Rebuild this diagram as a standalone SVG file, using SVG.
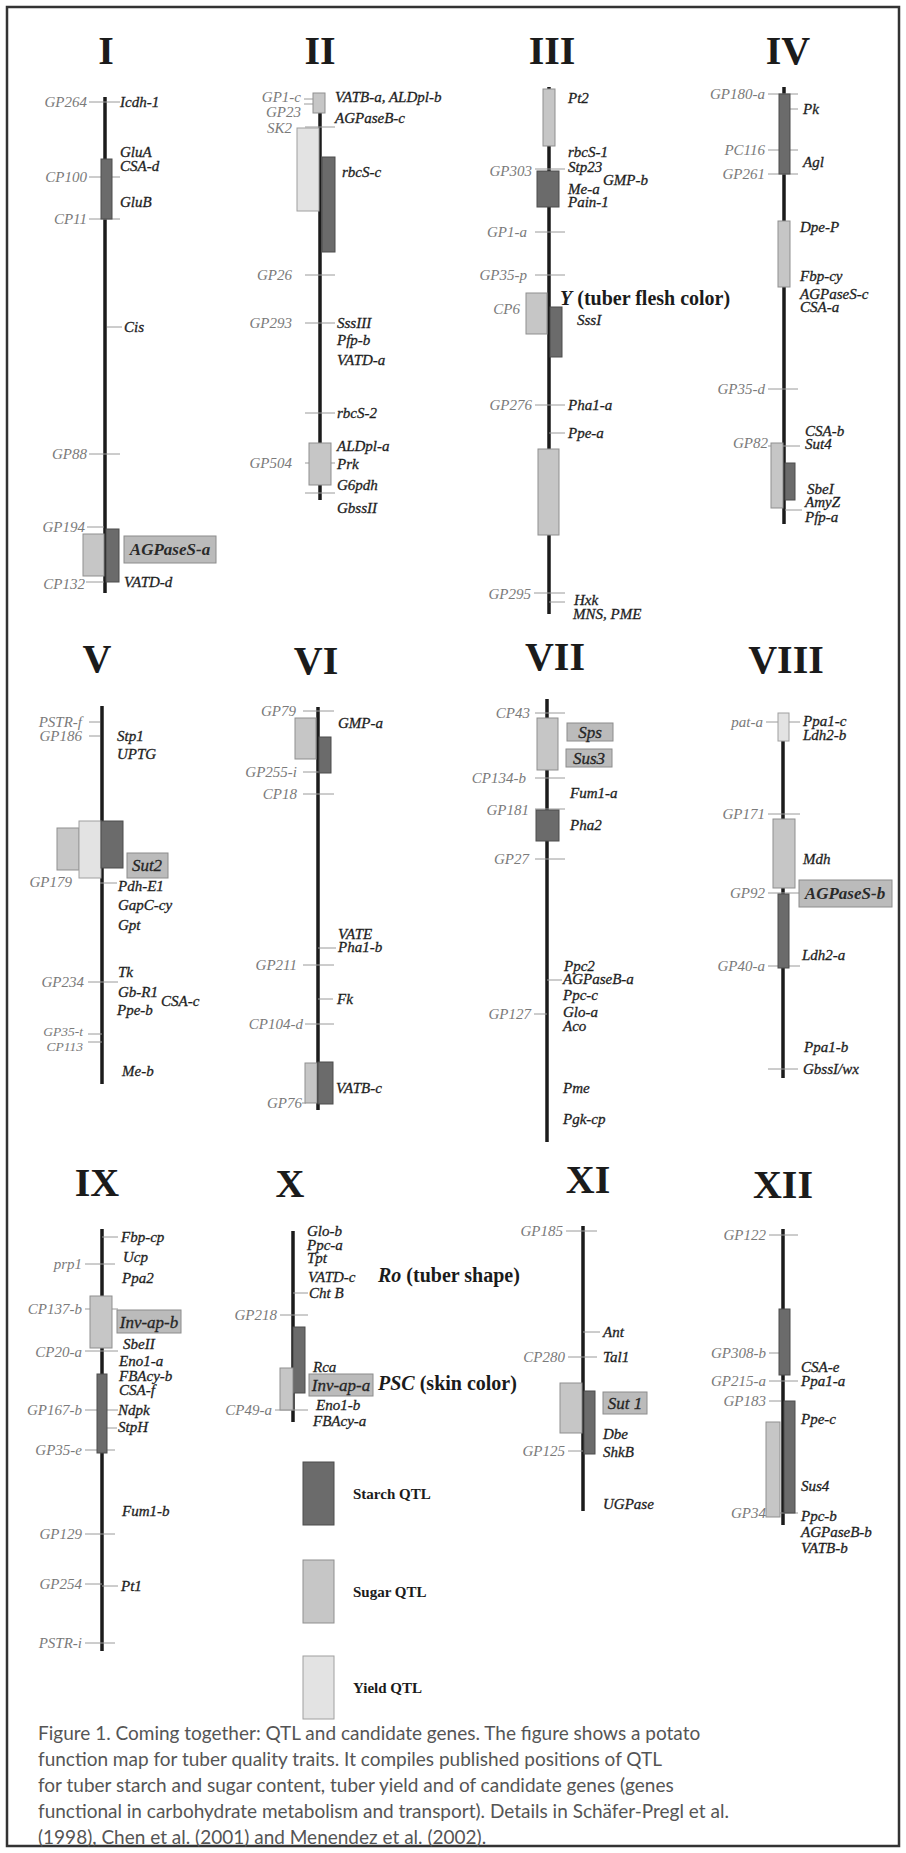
<svg xmlns="http://www.w3.org/2000/svg" width="906" height="1853" viewBox="0 0 906 1853">
<style>
.chr{stroke:#1b1b1b;stroke-width:3.5}
.tk{stroke:#9a9a9a;stroke-width:1}
.st{fill:#6b6b6b;stroke:#4d4d4d;stroke-width:1}
.su{fill:#c6c6c6;stroke:#8f8f8f;stroke-width:1}
.yi{fill:#e3e3e3;stroke:#a0a0a0;stroke-width:1}
.hl{fill:#bbbbbb;stroke:#8c8c8c;stroke-width:1}
.t{font-family:"Liberation Serif",serif;font-weight:bold;font-size:40px;text-anchor:middle;fill:#1b1b1b}
.m{font-family:"Liberation Serif",serif;font-style:italic;font-size:15px;fill:#7a7a7a;text-anchor:end}
.ms{font-family:"Liberation Serif",serif;font-style:italic;font-size:13.5px;fill:#7a7a7a;text-anchor:end}
.g{font-family:"Liberation Serif",serif;font-style:italic;font-size:15px;fill:#1e1e1e;stroke:#1e1e1e;stroke-width:0.3}
.h{font-family:"Liberation Serif",serif;font-style:italic;font-size:17px;fill:#262626;stroke:#262626;stroke-width:0.3;text-anchor:middle}
.hb{font-family:"Liberation Serif",serif;font-style:italic;font-weight:bold;font-size:17px;fill:#2a2a2a;text-anchor:middle}
.b{font-family:"Liberation Serif",serif;font-weight:bold;font-size:20px;fill:#1b1b1b}
.lg{font-family:"Liberation Serif",serif;font-weight:bold;font-size:15px;fill:#1b1b1b}
.cap{font-family:Lato,"Open Sans",sans-serif;font-size:19px;fill:#555}
</style>
<rect x="7" y="7" width="892" height="1839" fill="#fff" stroke="#333" stroke-width="2.5"/>
<g id="connectors"></g>

<g id="chr-I">
<text class="t" x="106" y="64">I</text>
<line class="chr" x1="105" y1="97" x2="105" y2="593"/>
<line class="tk" x1="89" y1="102" x2="120" y2="102"/>
<line class="tk" x1="89" y1="177" x2="120" y2="177"/>
<line class="tk" x1="89" y1="219" x2="120" y2="219"/>
<line class="tk" x1="107" y1="327" x2="122" y2="327"/>
<line class="tk" x1="89" y1="454" x2="120" y2="454"/>
<line class="tk" x1="87" y1="527" x2="104" y2="527"/>
<line class="tk" x1="86" y1="582" x2="104" y2="582"/>
<rect class="st" x="101" y="159" width="11" height="60"/>
<rect class="su" x="83" y="534" width="21" height="42"/>
<rect class="st" x="106" y="529" width="13" height="53"/>
<rect class="hl" x="124" y="536" width="92" height="27"/>
<text class="m" x="87" y="107">GP264</text>
<text class="m" x="87" y="182">CP100</text>
<text class="m" x="87" y="224">CP11</text>
<text class="m" x="87" y="459">GP88</text>
<text class="m" x="85" y="532">GP194</text>
<text class="m" x="85" y="589">CP132</text>
<text class="g" x="120" y="107">Icdh-1</text>
<text class="g" x="120" y="157">GluA</text>
<text class="g" x="120" y="171">CSA-d</text>
<text class="g" x="120" y="207">GluB</text>
<text class="g" x="124" y="332">Cis</text>
<text class="hb" x="170" y="555">AGPaseS-a</text>
<text class="g" x="124" y="587">VATD-d</text>
</g>

<g id="chr-II">
<text class="t" x="320" y="64">II</text>
<line class="chr" x1="320" y1="95" x2="320" y2="500"/>
<line class="tk" x1="304" y1="99" x2="325" y2="99"/>
<line class="tk" x1="304" y1="104" x2="313" y2="104"/>
<line class="tk" x1="305" y1="127" x2="335" y2="127"/>
<line class="tk" x1="305" y1="275" x2="335" y2="275"/>
<line class="tk" x1="305" y1="323" x2="335" y2="323"/>
<line class="tk" x1="305" y1="413" x2="335" y2="413"/>
<line class="tk" x1="305" y1="463" x2="335" y2="463"/>
<line class="tk" x1="305" y1="493" x2="335" y2="493"/>
<rect class="su" x="313" y="93" width="12" height="20"/>
<rect class="yi" x="297" y="128" width="22" height="83"/>
<rect class="st" x="322" y="157" width="13" height="95"/>
<rect class="su" x="309" y="443" width="22" height="42"/>
<text class="m" x="301" y="102">GP1-c</text>
<text class="m" x="301" y="117">GP23</text>
<text class="m" x="292" y="133">SK2</text>
<text class="m" x="292" y="280">GP26</text>
<text class="m" x="292" y="328">GP293</text>
<text class="m" x="292" y="468">GP504</text>
<text class="g" x="335" y="102">VATB-a, ALDpl-b</text>
<text class="g" x="335" y="123">AGPaseB-c</text>
<text class="g" x="342" y="177">rbcS-c</text>
<text class="g" x="337" y="328">SssIII</text>
<text class="g" x="337" y="345">Pfp-b</text>
<text class="g" x="337" y="365">VATD-a</text>
<text class="g" x="337" y="418">rbcS-2</text>
<text class="g" x="337" y="451">ALDpl-a</text>
<text class="g" x="337" y="469">Prk</text>
<text class="g" x="337" y="490">G6pdh</text>
<text class="g" x="337" y="513">GbssII</text>
</g>

<g id="chr-III">
<text class="t" x="552" y="64">III</text>
<line class="chr" x1="549" y1="87" x2="549" y2="614"/>
<line class="tk" x1="535" y1="169" x2="565" y2="169"/>
<line class="tk" x1="535" y1="232" x2="565" y2="232"/>
<line class="tk" x1="535" y1="275" x2="565" y2="275"/>
<line class="tk" x1="535" y1="405" x2="565" y2="405"/>
<line class="tk" x1="549" y1="433" x2="565" y2="433"/>
<line class="tk" x1="534" y1="593" x2="565" y2="593"/>
<line class="tk" x1="549" y1="602" x2="565" y2="602"/>
<rect class="su" x="543" y="89" width="12" height="57"/>
<rect class="st" x="537" y="171" width="22" height="36"/>
<rect class="su" x="526" y="293" width="21" height="41"/>
<rect class="st" x="550" y="307" width="12" height="50"/>
<rect class="su" x="538" y="449" width="21" height="86"/>
<text class="m" x="532" y="176">GP303</text>
<text class="m" x="527" y="237">GP1-a</text>
<text class="m" x="527" y="280">GP35-p</text>
<text class="m" x="520" y="314">CP6</text>
<text class="m" x="532" y="410">GP276</text>
<text class="m" x="531" y="599">GP295</text>
<text class="g" x="568" y="103">Pt2</text>
<text class="g" x="568" y="157">rbcS-1</text>
<text class="g" x="568" y="172">Stp23</text>
<text class="g" x="603" y="185">GMP-b</text>
<text class="g" x="568" y="194">Me-a</text>
<text class="g" x="568" y="207">Pain-1</text>
<text class="g" x="577" y="325">SssI</text>
<text class="g" x="568" y="410">Pha1-a</text>
<text class="g" x="568" y="438">Ppe-a</text>
<text class="g" x="574" y="605">Hxk</text>
<text class="g" x="573" y="619">MNS, PME</text>
<text class="b" x="560" y="305"><tspan font-style="italic">Y</tspan> (tuber flesh color)</text>
</g>

<g id="chr-IV">
<text class="t" x="788" y="64">IV</text>
<line class="chr" x1="784" y1="87" x2="784" y2="524"/>
<line class="tk" x1="768" y1="94" x2="798" y2="94"/>
<line class="tk" x1="790" y1="109" x2="798" y2="109"/>
<line class="tk" x1="768" y1="150" x2="798" y2="150"/>
<line class="tk" x1="768" y1="174" x2="798" y2="174"/>
<line class="tk" x1="768" y1="389" x2="798" y2="389"/>
<line class="tk" x1="768" y1="446" x2="800" y2="446"/>
<line class="tk" x1="785" y1="510" x2="802" y2="510"/>
<rect class="st" x="779" y="94" width="11" height="80"/>
<rect class="su" x="778" y="221" width="12" height="66"/>
<rect class="su" x="771" y="443" width="12" height="65"/>
<rect class="st" x="785" y="463" width="10" height="37"/>
<text class="m" x="765" y="99">GP180-a</text>
<text class="m" x="765" y="155">PC116</text>
<text class="m" x="765" y="179">GP261</text>
<text class="m" x="765" y="394">GP35-d</text>
<text class="m" x="768" y="448">GP82</text>
<text class="g" x="803" y="114">Pk</text>
<text class="g" x="803" y="167">Agl</text>
<text class="g" x="800" y="232">Dpe-P</text>
<text class="g" x="800" y="281">Fbp-cy</text>
<text class="g" x="800" y="299">AGPaseS-c</text>
<text class="g" x="800" y="312">CSA-a</text>
<text class="g" x="805" y="436">CSA-b</text>
<text class="g" x="805" y="449">Sut4</text>
<text class="g" x="807" y="494">SbeI</text>
<text class="g" x="805" y="507">AmyZ</text>
<text class="g" x="805" y="522">Pfp-a</text>
</g>

<g id="chr-V">
<text class="t" x="97" y="672">V</text>
<line class="chr" x1="102" y1="706" x2="102" y2="1084"/>
<line class="tk" x1="89" y1="722" x2="100" y2="722"/>
<line class="tk" x1="89" y1="736" x2="100" y2="736"/>
<line class="tk" x1="100" y1="883" x2="117" y2="883"/>
<line class="tk" x1="88" y1="982" x2="118" y2="982"/>
<line class="tk" x1="88" y1="1034" x2="102" y2="1034"/>
<line class="tk" x1="88" y1="1042" x2="102" y2="1042"/>
<rect class="su" x="57" y="828" width="22" height="42"/>
<rect class="yi" x="79" y="821" width="22" height="57"/>
<rect class="st" x="101" y="821" width="22" height="47"/>
<rect class="hl" x="127" y="853" width="41" height="25"/>
<text class="m" x="82" y="727">PSTR-f</text>
<text class="m" x="82" y="741">GP186</text>
<text class="m" x="72" y="887">GP179</text>
<text class="m" x="84" y="987">GP234</text>
<text class="ms" x="83" y="1036">GP35-t</text>
<text class="ms" x="83" y="1051">CP113</text>
<text class="g" x="117" y="741">Stp1</text>
<text class="g" x="117" y="759">UPTG</text>
<text class="h" x="147" y="871">Sut2</text>
<text class="g" x="118" y="891">Pdh-E1</text>
<text class="g" x="118" y="910">GapC-cy</text>
<text class="g" x="118" y="930">Gpt</text>
<text class="g" x="118" y="977">Tk</text>
<text class="g" x="118" y="997">Gb-R1</text>
<text class="g" x="161" y="1006">CSA-c</text>
<text class="g" x="117" y="1015">Ppe-b</text>
<text class="g" x="122" y="1076">Me-b</text>
</g>

<g id="chr-VI">
<text class="t" x="316" y="674">VI</text>
<line class="chr" x1="318" y1="707" x2="318" y2="1110"/>
<line class="tk" x1="303" y1="711" x2="334" y2="711"/>
<line class="tk" x1="303" y1="772" x2="319" y2="772"/>
<line class="tk" x1="303" y1="794" x2="334" y2="794"/>
<line class="tk" x1="318" y1="948" x2="336" y2="948"/>
<line class="tk" x1="303" y1="965" x2="334" y2="965"/>
<line class="tk" x1="318" y1="999" x2="333" y2="999"/>
<line class="tk" x1="305" y1="1024" x2="334" y2="1024"/>
<line class="tk" x1="302" y1="1103" x2="306" y2="1103"/>
<rect class="su" x="295" y="718" width="21" height="41"/>
<rect class="st" x="319" y="737" width="12" height="36"/>
<rect class="su" x="305" y="1063" width="12" height="40"/>
<rect class="st" x="318" y="1062" width="15" height="42"/>
<text class="m" x="296" y="716">GP79</text>
<text class="m" x="297" y="777">GP255-i</text>
<text class="m" x="297" y="799">CP18</text>
<text class="m" x="297" y="970">GP211</text>
<text class="m" x="303" y="1029">CP104-d</text>
<text class="m" x="302" y="1108">GP76</text>
<text class="g" x="338" y="728">GMP-a</text>
<text class="g" x="338" y="939">VATE</text>
<text class="g" x="338" y="952">Pha1-b</text>
<text class="g" x="337" y="1004">Fk</text>
<text class="g" x="336" y="1093">VATB-c</text>
</g>

<g id="chr-VII">
<text class="t" x="555" y="670">VII</text>
<line class="chr" x1="547" y1="699" x2="547" y2="1142"/>
<line class="tk" x1="535" y1="713" x2="565" y2="713"/>
<line class="tk" x1="535" y1="778" x2="565" y2="778"/>
<line class="tk" x1="535" y1="809" x2="565" y2="809"/>
<line class="tk" x1="535" y1="859" x2="565" y2="859"/>
<line class="tk" x1="547" y1="980" x2="562" y2="980"/>
<line class="tk" x1="534" y1="1014" x2="547" y2="1014"/>
<rect class="su" x="537" y="718" width="21" height="52"/>
<rect class="st" x="536" y="810" width="23" height="31"/>
<rect class="hl" x="567" y="723" width="46" height="18"/>
<rect class="hl" x="566" y="749" width="46" height="18"/>
<text class="m" x="530" y="718">CP43</text>
<text class="m" x="526" y="783">CP134-b</text>
<text class="m" x="529" y="815">GP181</text>
<text class="m" x="529" y="864">GP27</text>
<text class="m" x="531" y="1019">GP127</text>
<text class="h" x="590" y="738">Sps</text>
<text class="h" x="589" y="764">Sus3</text>
<text class="g" x="570" y="798">Fum1-a</text>
<text class="g" x="570" y="830">Pha2</text>
<text class="g" x="564" y="971">Ppc2</text>
<text class="g" x="563" y="984">AGPaseB-a</text>
<text class="g" x="563" y="1000">Ppc-c</text>
<text class="g" x="563" y="1017">Glo-a</text>
<text class="g" x="563" y="1031">Aco</text>
<text class="g" x="563" y="1093">Pme</text>
<text class="g" x="563" y="1124">Pgk-cp</text>
</g>

<g id="chr-VIII">
<text class="t" x="786" y="673">VIII</text>
<line class="chr" x1="783" y1="713" x2="783" y2="1078"/>
<line class="tk" x1="766" y1="722" x2="800" y2="722"/>
<line class="tk" x1="768" y1="814" x2="800" y2="814"/>
<line class="tk" x1="768" y1="893" x2="800" y2="893"/>
<line class="tk" x1="768" y1="966" x2="800" y2="966"/>
<line class="tk" x1="768" y1="1069" x2="798" y2="1069"/>
<rect class="yi" x="778" y="713" width="11" height="28"/>
<rect class="su" x="773" y="819" width="22" height="69"/>
<rect class="st" x="778" y="894" width="11" height="74"/>
<rect class="hl" x="799" y="880" width="93" height="27"/>
<text class="m" x="763" y="727">pat-a</text>
<text class="m" x="765" y="819">GP171</text>
<text class="m" x="765" y="898">GP92</text>
<text class="m" x="765" y="971">GP40-a</text>
<text class="g" x="803" y="726">Ppa1-c</text>
<text class="g" x="803" y="740">Ldh2-b</text>
<text class="g" x="803" y="864">Mdh</text>
<text class="hb" x="845" y="899">AGPaseS-b</text>
<text class="g" x="802" y="960">Ldh2-a</text>
<text class="g" x="804" y="1052">Ppa1-b</text>
<text class="g" x="803" y="1074">GbssI/wx</text>
</g>

<g id="chr-IX">
<text class="t" x="97" y="1196">IX</text>
<line class="chr" x1="102" y1="1229" x2="102" y2="1651"/>
<line class="tk" x1="102" y1="1237" x2="118" y2="1237"/>
<line class="tk" x1="85" y1="1264" x2="115" y2="1264"/>
<line class="tk" x1="85" y1="1309" x2="118" y2="1309"/>
<line class="tk" x1="85" y1="1351" x2="118" y2="1351"/>
<line class="tk" x1="85" y1="1410" x2="118" y2="1410"/>
<line class="tk" x1="107" y1="1428" x2="117" y2="1428"/>
<line class="tk" x1="85" y1="1450" x2="115" y2="1450"/>
<line class="tk" x1="85" y1="1534" x2="115" y2="1534"/>
<line class="tk" x1="85" y1="1584" x2="102" y2="1584"/>
<line class="tk" x1="102" y1="1586" x2="118" y2="1586"/>
<line class="tk" x1="85" y1="1643" x2="115" y2="1643"/>
<rect class="su" x="90" y="1296" width="22" height="52"/>
<rect class="st" x="97" y="1374" width="10" height="79"/>
<rect class="hl" x="117" y="1310" width="64" height="23"/>
<text class="m" x="82" y="1269">prp1</text>
<text class="m" x="82" y="1314">CP137-b</text>
<text class="m" x="82" y="1357">CP20-a</text>
<text class="m" x="82" y="1415">GP167-b</text>
<text class="m" x="82" y="1455">GP35-e</text>
<text class="m" x="82" y="1539">GP129</text>
<text class="m" x="82" y="1589">GP254</text>
<text class="m" x="82" y="1648">PSTR-i</text>
<text class="g" x="121" y="1242">Fbp-cp</text>
<text class="g" x="123" y="1262">Ucp</text>
<text class="g" x="122" y="1283">Ppa2</text>
<text class="h" x="149" y="1328">Inv-ap-b</text>
<text class="g" x="123" y="1349">SbeII</text>
<text class="g" x="119" y="1366">Eno1-a</text>
<text class="g" x="119" y="1381">FBAcy-b</text>
<text class="g" x="119" y="1395">CSA-f</text>
<text class="g" x="118" y="1415">Ndpk</text>
<text class="g" x="118" y="1432">StpH</text>
<text class="g" x="122" y="1516">Fum1-b</text>
<text class="g" x="121" y="1591">Pt1</text>
</g>

<g id="chr-X">
<text class="t" x="290" y="1197">X</text>
<line class="chr" x1="293" y1="1231" x2="293" y2="1422"/>
<line class="tk" x1="293" y1="1293" x2="308" y2="1293"/>
<line class="tk" x1="280" y1="1315" x2="308" y2="1315"/>
<line class="tk" x1="275" y1="1410" x2="308" y2="1410"/>
<rect class="st" x="293" y="1327" width="12" height="66"/>
<rect class="su" x="280" y="1368" width="13" height="42"/>
<rect class="hl" x="309" y="1374" width="64" height="22"/>
<text class="m" x="277" y="1320">GP218</text>
<text class="m" x="272" y="1415">CP49-a</text>
<text class="g" x="307" y="1236">Glo-b</text>
<text class="g" x="307" y="1250">Ppc-a</text>
<text class="g" x="307" y="1263">Tpt</text>
<text class="g" x="308" y="1282">VATD-c</text>
<text class="g" x="309" y="1298">Cht B</text>
<text class="g" x="313" y="1372">Rca</text>
<text class="h" x="341" y="1391">Inv-ap-a</text>
<text class="g" x="316" y="1410">Eno1-b</text>
<text class="g" x="313" y="1426">FBAcy-a</text>
<text class="b" x="378" y="1282"><tspan font-style="italic">Ro</tspan> (tuber shape)</text>
<text class="b" x="378" y="1390"><tspan font-style="italic">PSC</tspan> (skin color)</text>
</g>

<g id="legend">
<rect class="st" x="303" y="1462" width="31" height="63"/>
<text class="lg" x="353" y="1499">Starch QTL</text>
<rect class="su" x="303" y="1560" width="31" height="63"/>
<text class="lg" x="353" y="1597">Sugar QTL</text>
<rect class="yi" x="303" y="1656" width="31" height="63"/>
<text class="lg" x="353" y="1693">Yield QTL</text>
</g>

<g id="chr-XI">
<text class="t" x="588" y="1193">XI</text>
<line class="chr" x1="583" y1="1226" x2="583" y2="1511"/>
<line class="tk" x1="566" y1="1231" x2="597" y2="1231"/>
<line class="tk" x1="583" y1="1332" x2="600" y2="1332"/>
<line class="tk" x1="568" y1="1357" x2="597" y2="1357"/>
<line class="tk" x1="568" y1="1451" x2="583" y2="1451"/>
<rect class="su" x="560" y="1383" width="22" height="50"/>
<rect class="st" x="584" y="1391" width="11" height="63"/>
<rect class="hl" x="603" y="1392" width="44" height="22"/>
<text class="m" x="563" y="1236">GP185</text>
<text class="m" x="565" y="1362">CP280</text>
<text class="m" x="565" y="1456">GP125</text>
<text class="g" x="603" y="1337">Ant</text>
<text class="g" x="603" y="1362">Tal1</text>
<text class="h" x="625" y="1409">Sut 1</text>
<text class="g" x="603" y="1439">Dbe</text>
<text class="g" x="603" y="1457">ShkB</text>
<text class="g" x="603" y="1509">UGPase</text>
</g>

<g id="chr-XII">
<text class="t" x="783" y="1198">XII</text>
<line class="chr" x1="783" y1="1229" x2="783" y2="1525"/>
<line class="tk" x1="769" y1="1235" x2="798" y2="1235"/>
<line class="tk" x1="769" y1="1353" x2="790" y2="1353"/>
<line class="tk" x1="769" y1="1381" x2="798" y2="1381"/>
<line class="tk" x1="769" y1="1401" x2="781" y2="1401"/>
<line class="tk" x1="769" y1="1513" x2="798" y2="1513"/>
<rect class="st" x="779" y="1309" width="11" height="66"/>
<rect class="su" x="766" y="1422" width="14" height="95"/>
<rect class="st" x="784" y="1401" width="11" height="112"/>
<text class="m" x="766" y="1240">GP122</text>
<text class="m" x="766" y="1358">GP308-b</text>
<text class="m" x="766" y="1386">GP215-a</text>
<text class="m" x="766" y="1406">GP183</text>
<text class="m" x="766" y="1518">GP34</text>
<text class="g" x="801" y="1372">CSA-e</text>
<text class="g" x="801" y="1386">Ppa1-a</text>
<text class="g" x="801" y="1424">Ppe-c</text>
<text class="g" x="801" y="1491">Sus4</text>
<text class="g" x="801" y="1521">Ppc-b</text>
<text class="g" x="801" y="1537">AGPaseB-b</text>
<text class="g" x="801" y="1553">VATB-b</text>
</g>

<g id="caption">
<text class="cap" x="38" y="1740">Figure 1. Coming together: QTL and candidate genes. The figure shows a potato</text>
<text class="cap" x="38" y="1766">function map for tuber quality traits. It compiles published positions of QTL</text>
<text class="cap" x="38" y="1792">for tuber starch and sugar content, tuber yield and of candidate genes (genes</text>
<text class="cap" x="38" y="1818">functional in carbohydrate metabolism and transport). Details in Schäfer-Pregl et al.</text>
<text class="cap" x="38" y="1844">(1998), Chen et al. (2001) and Menendez et al. (2002).</text>
</g>
</svg>
